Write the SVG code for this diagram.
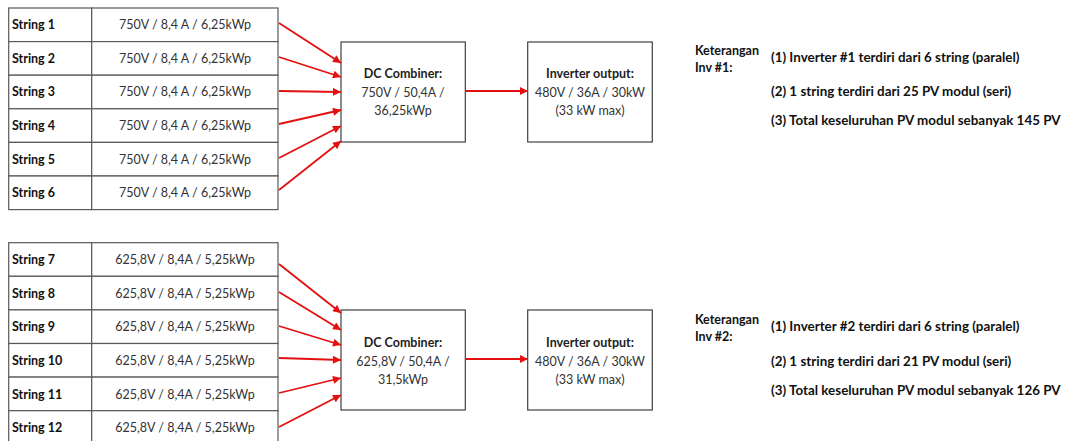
<svg xmlns="http://www.w3.org/2000/svg" width="1065" height="441" viewBox="0 0 1065 441">
<defs>
<style>
.cell{fill:#fff;stroke:#595959;stroke-width:1.2}
.box{fill:#fff;stroke:#404040;stroke-width:1.2}
.lbl{font-family:Lato,"Liberation Sans",sans-serif;font-size:12.5px;font-weight:bold;fill:#111}
.val{font-family:Lato,"Liberation Sans",sans-serif;font-size:12.5px;fill:#333;text-anchor:middle}
.bt{font-family:Lato,"Liberation Sans",sans-serif;font-size:12.5px;font-weight:bold;fill:#222;text-anchor:middle}
.nt{font-family:Lato,"Liberation Sans",sans-serif;font-size:12.5px;fill:#333;text-anchor:middle}
.kt{font-family:Lato,"Liberation Sans",sans-serif;font-size:12.5px;font-weight:bold;fill:#111}
.note{font-family:Lato,"Liberation Sans",sans-serif;font-size:13.4px;font-weight:bold;fill:#111}
.arr{stroke:#e31010;stroke-width:1.8;fill:none;marker-end:url(#ah)}
</style>
<marker id="ah" viewBox="0 0 10 10" refX="10" refY="5" markerWidth="9" markerHeight="8" markerUnits="userSpaceOnUse" orient="auto">
<path d="M0,0 L10,5 L0,10 z" fill="#e31010"/>
</marker>
</defs>
<rect width="1065" height="441" fill="#fff"/>

<g id="string1"><rect class="cell" x="8.7" y="8" width="83" height="33.6"/><rect class="cell" x="91.7" y="8" width="186.3" height="33.6"/><text class="lbl" x="12" y="29">String 1</text><text class="val" x="185" y="29">750V / 8,4 A / 6,25kWp</text></g>
<g id="string2"><rect class="cell" x="8.7" y="41.6" width="83" height="33.6"/><rect class="cell" x="91.7" y="41.6" width="186.3" height="33.6"/><text class="lbl" x="12" y="62.5">String 2</text><text class="val" x="185" y="62.5">750V / 8,4 A / 6,25kWp</text></g>
<g id="string3"><rect class="cell" x="8.7" y="75.2" width="83" height="33.6"/><rect class="cell" x="91.7" y="75.2" width="186.3" height="33.6"/><text class="lbl" x="12" y="96">String 3</text><text class="val" x="185" y="96">750V / 8,4 A / 6,25kWp</text></g>
<g id="string4"><rect class="cell" x="8.7" y="108.8" width="83" height="33.6"/><rect class="cell" x="91.7" y="108.8" width="186.3" height="33.6"/><text class="lbl" x="12" y="130">String 4</text><text class="val" x="185" y="130">750V / 8,4 A / 6,25kWp</text></g>
<g id="string5"><rect class="cell" x="8.7" y="142.4" width="83" height="33.6"/><rect class="cell" x="91.7" y="142.4" width="186.3" height="33.6"/><text class="lbl" x="12" y="163.5">String 5</text><text class="val" x="185" y="163.5">750V / 8,4 A / 6,25kWp</text></g>
<g id="string6"><rect class="cell" x="8.7" y="176" width="83" height="33.6"/><rect class="cell" x="91.7" y="176" width="186.3" height="33.6"/><text class="lbl" x="12" y="197">String 6</text><text class="val" x="185" y="197">750V / 8,4 A / 6,25kWp</text></g>

<g id="dc1"><rect class="box" x="341" y="42" width="124.3" height="100"/><text class="bt" x="403" y="78">DC Combiner:</text><text class="nt" x="403" y="96.5">750V / 50,4A /</text><text class="nt" x="403" y="115">36,25kWp</text></g>
<g id="inv1"><rect class="box" x="527.7" y="42" width="124.6" height="100"/><text class="bt" x="590" y="78">Inverter output:</text><text class="nt" x="590" y="96.5">480V / 36A / 30kW</text><text class="nt" x="590" y="115">(33 kW max)</text></g>

<g id="note1"><text class="kt" x="695" y="55">Keterangan</text><text class="kt" x="695" y="72">Inv #1:</text><text class="note" x="771" y="62">(1) Inverter #1 terdiri dari 6 string (paralel)</text><text class="note" x="771" y="96">(2) 1 string terdiri dari 25 PV modul (seri)</text><text class="note" x="771" y="125">(3) Total keseluruhan PV modul sebanyak 145 PV</text></g>

<g id="string7"><rect class="cell" x="8.7" y="242.7" width="83" height="33.6"/><rect class="cell" x="91.7" y="242.7" width="186.3" height="33.6"/><text class="lbl" x="12" y="264">String 7</text><text class="val" x="185" y="264">625,8V / 8,4A / 5,25kWp</text></g>
<g id="string8"><rect class="cell" x="8.7" y="276.3" width="83" height="33.6"/><rect class="cell" x="91.7" y="276.3" width="186.3" height="33.6"/><text class="lbl" x="12" y="297.5">String 8</text><text class="val" x="185" y="297.5">625,8V / 8,4A / 5,25kWp</text></g>
<g id="string9"><rect class="cell" x="8.7" y="309.9" width="83" height="33.6"/><rect class="cell" x="91.7" y="309.9" width="186.3" height="33.6"/><text class="lbl" x="12" y="331">String 9</text><text class="val" x="185" y="331">625,8V / 8,4A / 5,25kWp</text></g>
<g id="string10"><rect class="cell" x="8.7" y="343.5" width="83" height="33.6"/><rect class="cell" x="91.7" y="343.5" width="186.3" height="33.6"/><text class="lbl" x="12" y="364.5">String 10</text><text class="val" x="185" y="364.5">625,8V / 8,4A / 5,25kWp</text></g>
<g id="string11"><rect class="cell" x="8.7" y="377.1" width="83" height="33.6"/><rect class="cell" x="91.7" y="377.1" width="186.3" height="33.6"/><text class="lbl" x="12" y="398.5">String 11</text><text class="val" x="185" y="398.5">625,8V / 8,4A / 5,25kWp</text></g>
<g id="string12"><rect class="cell" x="8.7" y="410.7" width="83" height="33.6"/><rect class="cell" x="91.7" y="410.7" width="186.3" height="33.6"/><text class="lbl" x="12" y="432">String 12</text><text class="val" x="185" y="432">625,8V / 8,4A / 5,25kWp</text></g>

<g id="dc2"><rect class="box" x="341" y="310" width="124.3" height="100"/><text class="bt" x="403" y="347">DC Combiner:</text><text class="nt" x="403" y="365.5">625,8V / 50,4A /</text><text class="nt" x="403" y="384">31,5kWp</text></g>
<g id="inv2"><rect class="box" x="527.7" y="310" width="124.6" height="100"/><text class="bt" x="590" y="347">Inverter output:</text><text class="nt" x="590" y="365.5">480V / 36A / 30kW</text><text class="nt" x="590" y="384">(33 kW max)</text></g>

<g id="note2"><text class="kt" x="695" y="324">Keterangan</text><text class="kt" x="695" y="341">Inv #2:</text><text class="note" x="771" y="331">(1) Inverter #2 terdiri dari 6 string (paralel)</text><text class="note" x="771" y="366">(2) 1 string terdiri dari 21 PV modul (seri)</text><text class="note" x="771" y="395">(3) Total keseluruhan PV modul sebanyak 126 PV</text></g>

<g id="connectors">
<line class="arr" x1="279" y1="23" x2="341" y2="63"/>
<line class="arr" x1="279" y1="57" x2="341" y2="77"/>
<line class="arr" x1="279" y1="91" x2="341" y2="92"/>
<line class="arr" x1="279" y1="124" x2="341" y2="110"/>
<line class="arr" x1="279" y1="158" x2="341" y2="126"/>
<line class="arr" x1="279" y1="190" x2="341" y2="141"/>
<line class="arr" x1="466" y1="91" x2="528" y2="91"/>
<line class="arr" x1="279" y1="264" x2="341" y2="313"/>
<line class="arr" x1="279" y1="292" x2="341" y2="330"/>
<line class="arr" x1="279" y1="326" x2="341" y2="345"/>
<line class="arr" x1="279" y1="358" x2="341" y2="360"/>
<line class="arr" x1="279" y1="393" x2="341" y2="378"/>
<line class="arr" x1="279" y1="427" x2="341" y2="395"/>
<line class="arr" x1="466" y1="359" x2="528" y2="359"/>
</g>
</svg>
